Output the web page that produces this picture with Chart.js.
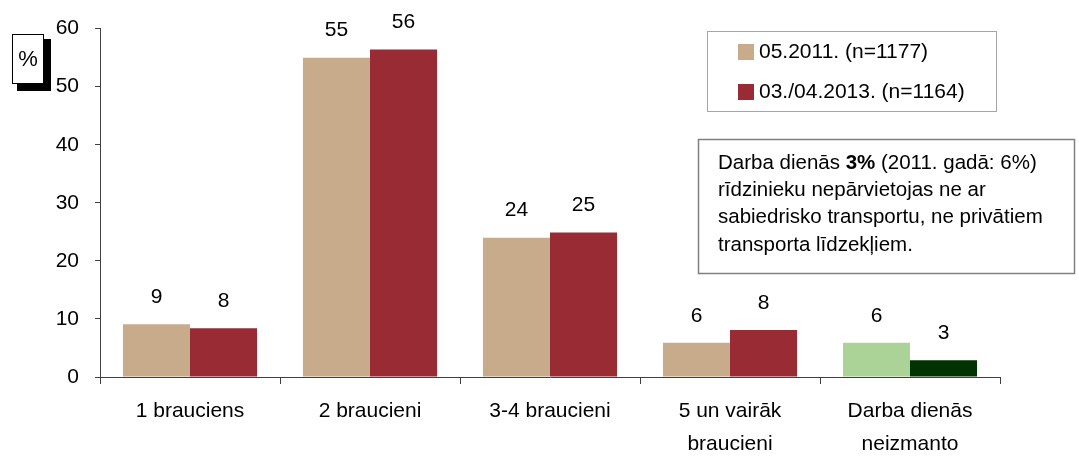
<!DOCTYPE html>
<html>
<head>
<meta charset="utf-8">
<script src="https://cdn.jsdelivr.net/npm/chart.js@4/dist/chart.umd.min.js"></script>
<style>
  html, body { margin: 0; padding: 0; background: #ffffff; }
  #wrap { position: relative; width: 1079px; height: 458px; }
</style>
</head>
<body>
<div id="wrap"><canvas id="c" width="1079" height="458"></canvas></div>
<script>
const categories = [["1 brauciens"], ["2 braucieni"], ["3-4 braucieni"], ["5 un vairāk", "braucieni"], ["Darba dienās", "neizmanto"]];
const seriesLabels = ["05.2011. (n=1177)", "03./04.2013. (n=1164)"];
const values2011 = [9.1, 55.0, 24.0, 5.9, 5.9];
const values2013 = [8.4, 56.4, 24.9, 8.1, 2.9];
const colors2011 = ["#C8AB8A", "#C8AB8A", "#C8AB8A", "#C8AB8A", "#ABD397"];
const colors2013 = ["#992B34", "#992B34", "#992B34", "#992B34", "#003300"];
const yTicks = [0, 10, 20, 30, 40, 50, 60];
const noteLines = [
  [["Darba dienās ", false], ["3%", true], [" (2011. gadā: 6%)", false]],
  [["rīdzinieku nepārvietojas ne ar", false]],
  [["sabiedrisko transportu, ne privātiem", false]],
  [["transporta līdzekļiem.", false]]
];
const unitLabel = "%";

const FONT = "'Liberation Sans', Arial, sans-serif";

const valueLabels = {
  id: 'valueLabels',
  afterDatasetsDraw(chart) {
    const ctx = chart.ctx;
    ctx.save();
    ctx.font = "21px " + FONT;
    ctx.fillStyle = "#000";
    ctx.textAlign = "center";
    ctx.textBaseline = "middle";
    chart.data.datasets.forEach((ds, i) => {
      chart.getDatasetMeta(i).data.forEach((el, j) => {
        ctx.fillText(String(Math.round(ds.data[j])), el.x, el.y - 27);
      });
    });
    ctx.restore();
  }
};

const extras = {
  id: 'extras',
  afterDraw(chart) {
    const ctx = chart.ctx;
    ctx.save();
    // legend box
    ctx.strokeStyle = "#A6A6A6";
    ctx.lineWidth = 1;
    ctx.strokeRect(707.5, 31.5, 289, 80);
    ctx.font = "21px " + FONT;
    ctx.textBaseline = "middle";
    ctx.textAlign = "left";
    chart.data.datasets.forEach((ds, i) => {
      const cy = 52 + i * 40;
      ctx.fillStyle = ds.backgroundColor[0];
      ctx.fillRect(738, cy - 8, 16, 16);
      ctx.fillStyle = "#000";
      ctx.fillText(ds.label, 759, cy);
    });
    // note box
    ctx.strokeStyle = "#808080";
    ctx.lineWidth = 1.5;
    ctx.strokeRect(698.5, 139.5, 376, 134);
    ctx.fillStyle = "#000";
    noteLines.forEach((line, li) => {
      let x = 718;
      const y = 163 + li * 27.3;
      line.forEach(([t, bold]) => {
        ctx.font = (bold ? "bold " : "") + "20.5px " + FONT;
        ctx.fillText(t, x, y);
        x += ctx.measureText(t).width;
      });
    });
    // % box with shadow
    ctx.fillStyle = "#000";
    ctx.fillRect(17, 39, 34, 52);
    ctx.fillStyle = "#fff";
    ctx.fillRect(12, 34, 32, 50);
    ctx.strokeStyle = "#000";
    ctx.lineWidth = 1;
    ctx.strokeRect(12.5, 34.5, 31, 49);
    ctx.fillStyle = "#000";
    ctx.font = "22px " + FONT;
    ctx.textAlign = "center";
    ctx.fillText(unitLabel, 28, 60);
    ctx.restore();
  }
};

new Chart(document.getElementById('c'), {
  type: 'bar',
  data: {
    labels: categories,
    datasets: [
      { label: seriesLabels[0], data: values2011, backgroundColor: colors2011, categoryPercentage: 0.745, barPercentage: 1.0 },
      { label: seriesLabels[1], data: values2013, backgroundColor: colors2013, categoryPercentage: 0.745, barPercentage: 1.0 }
    ]
  },
  options: {
    responsive: false,
    animation: false,
    events: [],
    layout: { padding: { top: 27, right: 79, left: 0, bottom: 0 } },
    plugins: { legend: { display: false }, tooltip: { enabled: false } },
    scales: {
      x: {
        grid: { display: true, drawOnChartArea: false, drawTicks: true, tickLength: 7, color: "#404040", offset: true },
        border: { display: true, color: "#404040", width: 1 },
        ticks: { color: "#000", font: { family: FONT, size: 21, lineHeight: 1.57 }, padding: 11, maxRotation: 0, autoSkip: false },
        afterFit(s) { s.height = 81; }
      },
      y: {
        min: 0, max: 60,
        afterBuildTicks(s) { s.ticks = yTicks.map(v => ({ value: v })); },
        grid: { display: true, drawOnChartArea: false, drawTicks: true, tickLength: 5, color: "#404040" },
        border: { display: true, color: "#404040", width: 1 },
        ticks: { color: "#000", font: { family: FONT, size: 21 }, padding: 16 },
        afterFit(s) { s.width = 100; }
      }
    }
  },
  plugins: [valueLabels, extras]
});
</script>
</body>
</html>
